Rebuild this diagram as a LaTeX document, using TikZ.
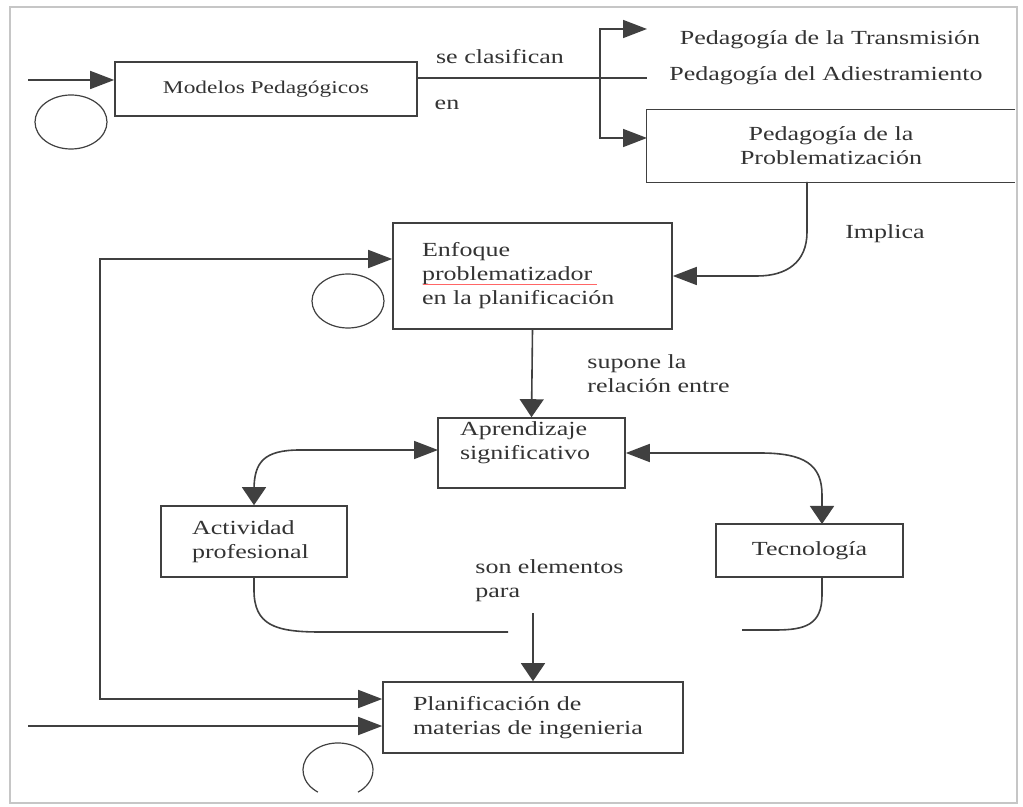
\documentclass[tikz,border=0pt]{standalone}
\usepackage{fontspec}
\setmainfont{Liberation Serif}[FakeStretch=1.3]
\usetikzlibrary{arrows.meta}
\tikzset{
  caja/.style={draw=black!75, line width=0.8pt, inner sep=0pt, text=black!80},
  txt/.style={inner sep=0pt, text=black!80},
  linea/.style={draw=black!75, line width=0.8pt},
  hpunta/.tip={Triangle[length=12pt,width=9pt]},
  vpunta/.tip={Triangle[length=9pt,width=12pt]},
}

\begin{document}
\begin{tikzpicture}[x=0.5pt, y=-0.5pt, font=\fontsize{10}{12}\selectfont]
    \useasboundingbox (0,0) rectangle (1023,807);
    \draw[gray!45, line width=1pt] (10,7) rectangle (1017,803);

    % cajas
    \node[caja, minimum width=151pt, minimum height=27pt,
          font=\fontsize{9}{11}\selectfont] (modelos) at (266,89) {Modelos Pedagógicos};
    \node[txt, minimum width=184pt, minimum height=36pt, align=center]
          (problema) at (831,146) {Pedagogía de la\\Problematización};
    \draw[linea] (problema.north east) -- (problema.north west)
          -- (problema.south west) -- (problema.south east);
    \node[caja, minimum width=139.5pt, minimum height=53pt, text width=110.5pt, align=left]
          (enfoque) at (532.5,276) {Enfoque\\problematizador\\en la planificación};
    \node[caja, minimum width=93.5pt, minimum height=35pt, text width=71.5pt, align=left,
          text depth=24pt] (aprendizaje) at (531.5,453) {Aprendizaje\\significativo};
    \node[caja, minimum width=93pt, minimum height=35.5pt, text width=62pt, align=left]
          (actividad) at (254,541.5) {Actividad\\profesional};
    \node[caja, minimum width=93.5pt, minimum height=26.5pt] (tecnologia) at (809.5,550.5) {Tecnología};
    \node[caja, minimum width=150pt, minimum height=35.5pt, text width=120pt, align=left]
          (planif) at (533,717.5) {Planificación de\\materias de ingenieria};
    \draw[red!60, line width=0.4pt] (423,284) -- (597,284);

    % textos
    \node[txt] (clasif) at (500,57) {se clasifican};
    \node[txt] (en) at (447,105) {en};
    \node[txt] (transm) at (830,40) {Pedagogía de la Transmisión};
    \node[txt] (adiestr) at (826,76) {Pedagogía del Adiestramiento};
    \node[txt] (implica) at (885,234) {Implica};
    \node[txt, anchor=west, align=left] (supone) at (587,374) {supone la\\relación entre};
    \node[txt, anchor=west, align=left] (elementos) at (475,581) {son elementos\\para};

    % circulos
    \draw[linea, line width=0.6pt] (71,122) ellipse [x radius=36, y radius=27];
    \draw[linea, line width=0.6pt] (348,301) ellipse [x radius=36, y radius=27];
    \draw[linea, line width=0.6pt] (317.9,792.1) arc[start angle=125, end angle=415, x radius=35, y radius=27];

    % conectores
    \coordinate (in1) at (28,80);
    \coordinate (fin1) at (647,78);
    \coordinate (rama) at (600,78);
    \coordinate (sup) at (647,29);
    \coordinate (pin) at (647,138);
    \draw[linea, -hpunta] (in1) -- (in1 -| modelos.west);
    \draw[linea] (fin1 -| modelos.east) -- (fin1);
    \draw[linea, hpunta-hpunta] (sup) -| (rama) |- (pin);

    \coordinate (imp) at (807,182);
    \draw[linea, -hpunta] (imp) -- (807,232) .. controls (807,262) and (787,276) .. (757,276)
        -- (enfoque.east);

    \coordinate (izq) at (100,259);
    \coordinate (izq2) at (100,699);
    \draw[linea, hpunta-hpunta] (izq -| enfoque.west) -- (izq) -- (izq2) -- (izq2 -| planif.west);

    \draw[linea, -vpunta] (enfoque.south) -- (aprendizaje.north);

    \coordinate (aizq) at (438,450);
    \draw[linea, hpunta-vpunta] (aizq) -- (300,450) .. controls (264,450) and (254,462) .. (254,490)
        -- (actividad.north);
    \coordinate (tecin) at (822,524);
    \draw[linea, hpunta-vpunta] (aprendizaje.east) -- (760,453) .. controls (805,453) and (822,465) .. (822,495)
        -- (tecin);

    \coordinate (finact) at (508,632);
    \draw[linea] (actividad.south) -- (254,590) .. controls (254,625) and (275,632) .. (320,632) -- (finact);
    \coordinate (tecout) at (822,577);
    \coordinate (fintec) at (742,630);
    \draw[linea] (tecout) -- (822,595) .. controls (822,625) and (805,630) .. (775,630) -- (fintec);

    \coordinate (elem) at (533,613);
    \draw[linea, -vpunta] (elem) -- (planif.north);
    \coordinate (in2) at (28,726);
    \draw[linea, -hpunta] (in2) -- (in2 -| planif.west);
\end{tikzpicture}
\end{document}
